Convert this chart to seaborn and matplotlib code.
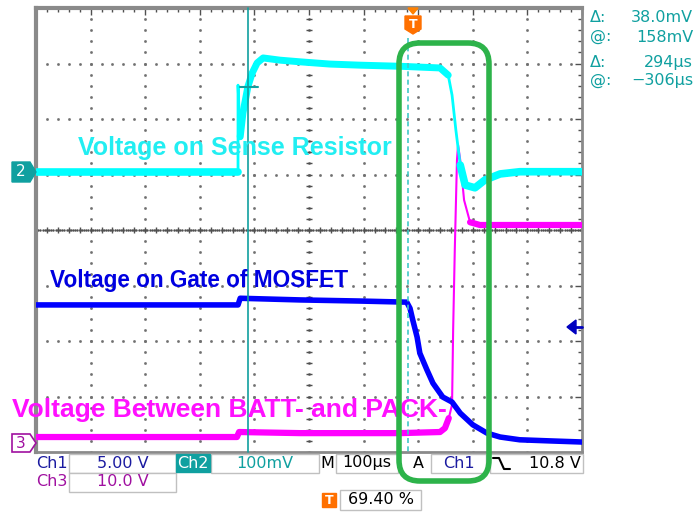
import numpy as np
import pandas as pd
import matplotlib
matplotlib.use('Agg')
import matplotlib.pyplot as plt
import seaborn as sns
from matplotlib.patches import Polygon, Rectangle, FancyBboxPatch
from matplotlib.lines import Line2D

# 화면 좌표는 눈금(division) 단위: x 0~10, y 0~8
# Ch2 (sense resistor) - cyan
ch2_t = [0, 3.70, 3.70, 3.74, 3.79, 3.88, 3.96, 4.05, 4.16, 4.47, 4.84, 5.38, 5.93, 6.67, 7.40,
         7.55, 7.62, 7.69, 7.77, 7.86, 8.04, 8.22, 8.50, 8.86, 10]
ch2_v = [5.05, 5.05, 6.61, 5.68, 6.11, 6.58, 6.83, 7.01, 7.10, 7.06, 7.03, 6.99, 6.97, 6.95, 6.92,
         6.79, 6.43, 5.80, 5.17, 4.81, 4.76, 4.90, 5.01, 5.05, 5.05]

# Ch1 (gate) - blue
ch1_t = [0, 3.70, 3.74, 4.84, 5.93, 6.79, 6.85, 6.90, 6.98, 7.03, 7.16, 7.27, 7.45, 7.62, 7.77,
         8.00, 8.26, 8.50, 8.86, 9.41, 10]
ch1_v = [2.65, 2.65, 2.77, 2.74, 2.72, 2.70, 2.59, 2.38, 2.07, 1.78, 1.48, 1.24, 0.99, 0.90, 0.70,
         0.49, 0.34, 0.27, 0.22, 0.20, 0.18]

# Ch3 (BATT- / PACK-) - magenta
ch3_t = [0, 3.68, 3.72, 4.84, 6.67, 7.40, 7.49, 7.56, 7.62, 7.64, 7.67, 7.71, 7.73, 7.77, 7.84,
         7.95, 8.13, 10]
ch3_v = [0.27, 0.27, 0.36, 0.34, 0.34, 0.36, 0.43, 0.61, 0.85, 2.20, 3.64, 5.26, 5.53, 5.26, 4.54,
         4.14, 4.09, 4.09]

readout_sym = ['Δ:', '@:', 'Δ:', '@:']
readout_val = ['38.0mV', '158mV', '294µs', '−306µs']

W, H = 698, 513
fig = plt.figure(figsize=(W / 100, H / 100), dpi=100)
sns.set_style('white')
plt.rcParams['font.family'] = ['DejaVu Sans']

ax = fig.add_axes([36 / W, 1 - 452 / H, (582 - 36) / W, (452 - 8) / H])
ax.set_xlim(0, 10)
ax.set_ylim(0, 8)
ax.set_xticks(np.arange(0, 11, 1))
ax.set_yticks(np.arange(0, 9, 1))
ax.set_xticks(np.arange(0, 10.01, 0.2), minor=True)
ax.set_yticks(np.arange(0, 8.01, 0.2), minor=True)
ax.tick_params(which='both', direction='in', top=True, right=True, labelbottom=False,
               labelleft=False, color='#505050')
ax.tick_params(which='major', length=5, width=1)
ax.tick_params(which='minor', length=3, width=1)
for s in ax.spines.values():
    s.set_color('#8a8a8a')
    s.set_linewidth(2)
ax.spines['left'].set_linewidth(3)
ax.spines['top'].set_linewidth(3)

# 그리드 점
sub = np.arange(0, 10.01, 0.2)
for gx in range(1, 10):
    ax.plot(np.full(41, gx), np.arange(0, 8.01, 0.2), ls='none', marker='s', ms=0.9,
            color='#707070', zorder=1)
for gy in range(1, 8):
    ax.plot(sub, np.full(len(sub), gy), ls='none', marker='s', ms=0.9, color='#707070', zorder=1)
# 중앙선 눈금
ax.plot(sub, np.full(len(sub), 4), ls='none', marker='|', ms=4, color='#505050', zorder=1)
ax.plot(np.full(41, 5), np.arange(0, 8.01, 0.2), ls='none', marker='_', ms=4, color='#505050', zorder=1)
ax.plot(np.arange(0, 10.01, 0.04), np.full(251, 4), ls='none', marker='s', ms=0.7, color='#505050', zorder=1)

# 트레이스 (빠른 엣지는 얇게, 노이즈 구간은 두껍게)
sns.lineplot(x=ch3_t, y=ch3_v, sort=False, estimator=None, color='#ff00ff', lw=1.5, ax=ax, zorder=3)
sns.lineplot(x=ch3_t[:8], y=ch3_v[:8], sort=False, estimator=None, color='#ff00ff', lw=4.5, ax=ax, zorder=3)
sns.lineplot(x=ch3_t[15:], y=ch3_v[15:], sort=False, estimator=None, color='#ff00ff', lw=4.5, ax=ax, zorder=3)
sns.lineplot(x=ch1_t, y=ch1_v, sort=False, estimator=None, color='#0000ff', lw=4, ax=ax, zorder=4)
sns.lineplot(x=ch2_t, y=ch2_v, sort=False, estimator=None, color='#00ffff', lw=2, ax=ax, zorder=5)
sns.lineplot(x=ch2_t[:2], y=ch2_v[:2], sort=False, estimator=None, color='#00ffff', lw=5.5, ax=ax, zorder=5)
sns.lineplot(x=ch2_t[3:16], y=ch2_v[3:16], sort=False, estimator=None, color='#00ffff', lw=5, ax=ax, zorder=5)
sns.lineplot(x=ch2_t[18:], y=ch2_v[18:], sort=False, estimator=None, color='#00ffff', lw=5.5, ax=ax, zorder=5)


def fx(px):
    return px / W


def fy(py):
    return 1 - py / H


# 커서
fig.add_artist(Line2D([fx(248), fx(248)], [fy(8), fy(452)], color='#10a0a0', lw=1.2, zorder=6))
fig.add_artist(Line2D([fx(408), fx(408)], [fy(38), fy(452)], color='#40c8c8', lw=1.2, ls=(0, (3, 2)), zorder=6))
fig.add_artist(Line2D([fx(240), fx(258)], [fy(87), fy(87)], color='#10a0a0', lw=1.5, zorder=6))

# 라벨
lab = dict(family='Liberation Sans', weight='bold', va='center', ha='left', zorder=8)
fig.text(fx(78), fy(148), 'Voltage on Sense Resistor', color='#22eef2', fontsize=18, **lab)
fig.text(fx(50), fy(281), 'Voltage on Gate of MOSFET', color='#0000e0', fontsize=16.3, **lab)
fig.text(fx(12), fy(410), 'Voltage Between BATT- and PACK-', color='#ff10ff', fontsize=19, **lab)

# 우측 측정값
ro_y = [18, 37, 63, 81]
for sym, val, yy in zip(readout_sym, readout_val, ro_y):
    fig.text(fx(590), fy(yy), sym, color='#10a0a0', fontsize=11.5, va='center', ha='left')
    fig.text(fx(693), fy(yy), val, color='#10a0a0', fontsize=11.5, va='center', ha='right')

# 채널 마커
fig.add_artist(Polygon([(fx(12), fy(162)), (fx(30), fy(162)), (fx(36), fy(172)), (fx(30), fy(182)),
                        (fx(12), fy(182))], closed=True, fc='#10a0a0', ec='#10a0a0', zorder=7))
fig.text(fx(21), fy(172), '2', color='white', fontsize=11, ha='center', va='center', zorder=8)
fig.add_artist(Polygon([(fx(12), fy(434)), (fx(30), fy(434)), (fx(36), fy(443)), (fx(30), fy(452)),
                        (fx(12), fy(452))], closed=True, fc='white', ec='#a010a0', lw=1.2, zorder=7))
fig.text(fx(21), fy(443), '3', color='#a010a0', fontsize=11, ha='center', va='center', zorder=8)
fig.add_artist(Polygon([(fx(567), fy(327)), (fx(576), fy(320)), (fx(576), fy(334))], closed=True,
                       fc='#0000c0', ec='#0000c0', zorder=7))
fig.add_artist(Line2D([fx(575), fx(582)], [fy(327), fy(327)], color='#0000c0', lw=2, zorder=7))

# 트리거 마커
fig.add_artist(Polygon([(fx(408), fy(8)), (fx(418), fy(8)), (fx(413), fy(14))], closed=True,
                       fc='#ff8000', ec='#ff8000', zorder=7))
fig.add_artist(Polygon([(fx(405), fy(16)), (fx(421), fy(16)), (fx(421), fy(29)), (fx(413), fy(34)),
                        (fx(405), fy(29))], closed=True, fc='#ff7000', ec='#ff7000', zorder=7))
fig.text(fx(413), fy(24), 'T', color='white', fontsize=9, weight='bold', ha='center', va='center', zorder=8)

# 상태 표시줄
def box(x0, y0, x1, y1, fc='white', ec='#c0c0c0'):
    fig.add_artist(Rectangle((fx(x0), fy(y1)), fx(x1) - fx(x0), fy(y0) - fy(y1), fc=fc, ec=ec,
                             lw=1, zorder=5))


box(69, 454, 176, 473)
box(211, 454, 319, 473)
box(336, 454, 398, 473)
box(431, 454, 486, 473)
box(490, 454, 583, 473)
box(69, 473, 176, 492)
box(176, 454, 210, 472, fc='#10a0a0', ec='#10a0a0')
box(340, 490, 421, 510)
box(322, 493, 336, 507, fc='#ff7000', ec='#ff7000')

st = dict(fontsize=11.5, va='center', zorder=8)
fig.text(fx(36), fy(463), 'Ch1', color='#1a1aa0', ha='left', **st)
fig.text(fx(123), fy(463), '5.00 V', color='#1a1aa0', ha='center', **st)
fig.text(fx(193), fy(463), 'Ch2', color='white', ha='center', **st)
fig.text(fx(265), fy(463), '100mV', color='#10a0a0', ha='center', **st)
fig.text(fx(320), fy(463), 'M', color='black', ha='left', **st)
fig.text(fx(367), fy(463), '100µs', color='black', ha='center', **st)
fig.text(fx(418), fy(463), 'A', color='black', ha='center', **st)
fig.text(fx(459), fy(463), 'Ch1', color='#1a1aa0', ha='center', **st)
fig.text(fx(581), fy(463), '10.8 V', color='black', ha='right', **st)
fig.text(fx(36), fy(482), 'Ch3', color='#a010a0', ha='left', **st)
fig.text(fx(123), fy(482), '10.0 V', color='#a010a0', ha='center', **st)
fig.text(fx(381), fy(500), '69.40 %', color='black', ha='center', **st)
fig.text(fx(329), fy(500), 'T', color='white', fontsize=9, weight='bold', ha='center', va='center', zorder=8)
fig.add_artist(Line2D([fx(493), fx(499), fx(504), fx(510)], [fy(458), fy(458), fy(469), fy(469)],
                      color='black', lw=1.5, zorder=8))

# 초록색 강조 박스
fig.add_artist(FancyBboxPatch((fx(399), fy(481)), fx(489) - fx(399), fy(43) - fy(481),
                              boxstyle='round,pad=0,rounding_size=0.03', fc='none', ec='#2db34a',
                              lw=4, zorder=9, mutation_aspect=W / H))

fig.savefig('out.png', dpi=100, facecolor='white')
